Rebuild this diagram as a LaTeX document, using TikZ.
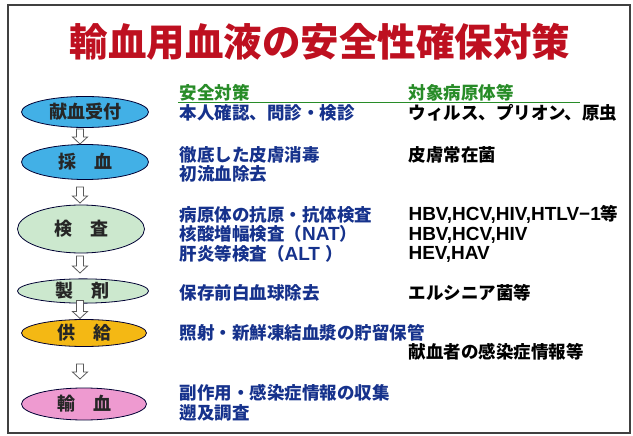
\documentclass[tikz,border=0pt]{standalone}
\usepackage{fontspec}
\setmainfont{Noto Sans CJK JP}
\newfontfamily\latinfont{Liberation Sans}
\newcommand\latintext[1]{{\latinfont\fontsize{19}{19.5}\selectfont #1}}
\usetikzlibrary{shapes.geometric}

\definecolor{titlered}{RGB}{190,16,32}
\definecolor{headgreen}{RGB}{40,140,40}
\definecolor{textblue}{RGB}{22,50,140}
\definecolor{stepblue}{RGB}{66,176,230}
\definecolor{stepgreen}{RGB}{204,232,206}
\definecolor{steporange}{RGB}{244,184,20}
\definecolor{steppink}{RGB}{238,154,208}

\tikzset{
  stagebox/.style={ellipse, draw=black!80!blue, line width=0.8pt, inner sep=0pt,
    minimum width=127pt, font=\fontsize{18}{19}\selectfont\bfseries, text=black!85},
  arrowline/.style={draw=black!65, fill=white, line width=0.8pt, line join=miter},
  pics/downarr/.style={code={
    \draw[arrowline] (-3.5,0) -- (3.5,0) -- (3.5,#1-7) -- (7.5,#1-7) -- (0,#1)
      -- (-7.5,#1-7) -- (-3.5,#1-7) -- cycle;}},
  measure/.style={anchor=west, align=left, text=textblue,
    font=\fontsize{17.5}{19.5}\selectfont\bfseries},
  target/.style={anchor=west, align=left, text=black,
    font=\fontsize{17.5}{19.5}\selectfont\bfseries},
  header/.style={anchor=west, text=headgreen, font=\fontsize{17.5}{19}\selectfont\bfseries}
}

\begin{document}
\begin{tikzpicture}[x=1pt,y=-1pt]
  \useasboundingbox (0,0) rectangle (633,436);
  \draw[line width=2pt, black!75] (8,5) rectangle (630,433);

  % title
  \node[text=titlered, font=\fontsize{38.5}{42}\selectfont\bfseries] (title) at (320,42)
    {輸血用血液の安全性確保対策};

  % headers
  \node[header] (hmeasure) at (176,93) {安全対策};
  \node[header] (htarget) at (405,93) {対象病原体等};
  \draw[headgreen, line width=1.2pt] (178,102.5) -- (580,102.5);

  % stages
  \node[stagebox, fill=stepblue, minimum height=31pt] (s1) at (85,112) {献血受付};
  \node[stagebox, fill=stepblue, minimum height=35pt] (s2) at (85,162) {採　血};
  \node[stagebox, fill=stepgreen, minimum height=48pt] (s3) at (81,229) {検　査};
  \node[stagebox, fill=stepgreen, minimum height=18pt, minimum width=131pt] (s4) at (83,291) {製　剤};
  \node[stagebox, fill=steporange, minimum height=27pt, minimum width=125pt] (s5) at (84,333) {供　給};
  \node[stagebox, fill=steppink, minimum height=32pt, minimum width=125pt] (s6) at (84,404) {輸　血};

  % arrows between stages
  \pic (a1) at (80,129) {downarr=15};
  \pic (a2) at (80,187) {downarr=16};
  \pic (a3) at (80,256) {downarr=17};
  \pic (a4) at (80,300.5) {downarr=18};
  \pic (a5) at (80,364) {downarr=15};

  % safety measures
  \node[measure] (m1) at (176,113) {本人確認、問診・検診};
  \node[measure] (m2) at (176,164.5) {徹底した皮膚消毒\\初流血除去};
  \node[measure] (m3) at (176,234) {病原体の抗原・抗体検査\\核酸増幅検査（\latintext{NAT}）\\肝炎等検査（\latintext{ALT }）};
  \node[measure] (m4) at (176,293) {保存前白血球除去};
  \node[measure] (m5) at (176,333) {照射・新鮮凍結血漿の貯留保管};
  \node[measure] (m6) at (176,403) {副作用・感染症情報の収集\\遡及調査};

  % target pathogens
  \node[target] (t1) at (405,113) {ウィルス、プリオン、原虫};
  \node[target] (t2) at (405,155) {皮膚常在菌};
  \node[target] (t3) at (405,234) {\latintext{HBV,HCV,HIV,HTLV−1}等\\\latintext{HBV,HCV,HIV}\\\latintext{HEV,HAV}};
  \node[target] (t4) at (405,293) {エルシニア菌等};
  \node[target] (t5) at (405,352) {献血者の感染症情報等};
\end{tikzpicture}
\end{document}
